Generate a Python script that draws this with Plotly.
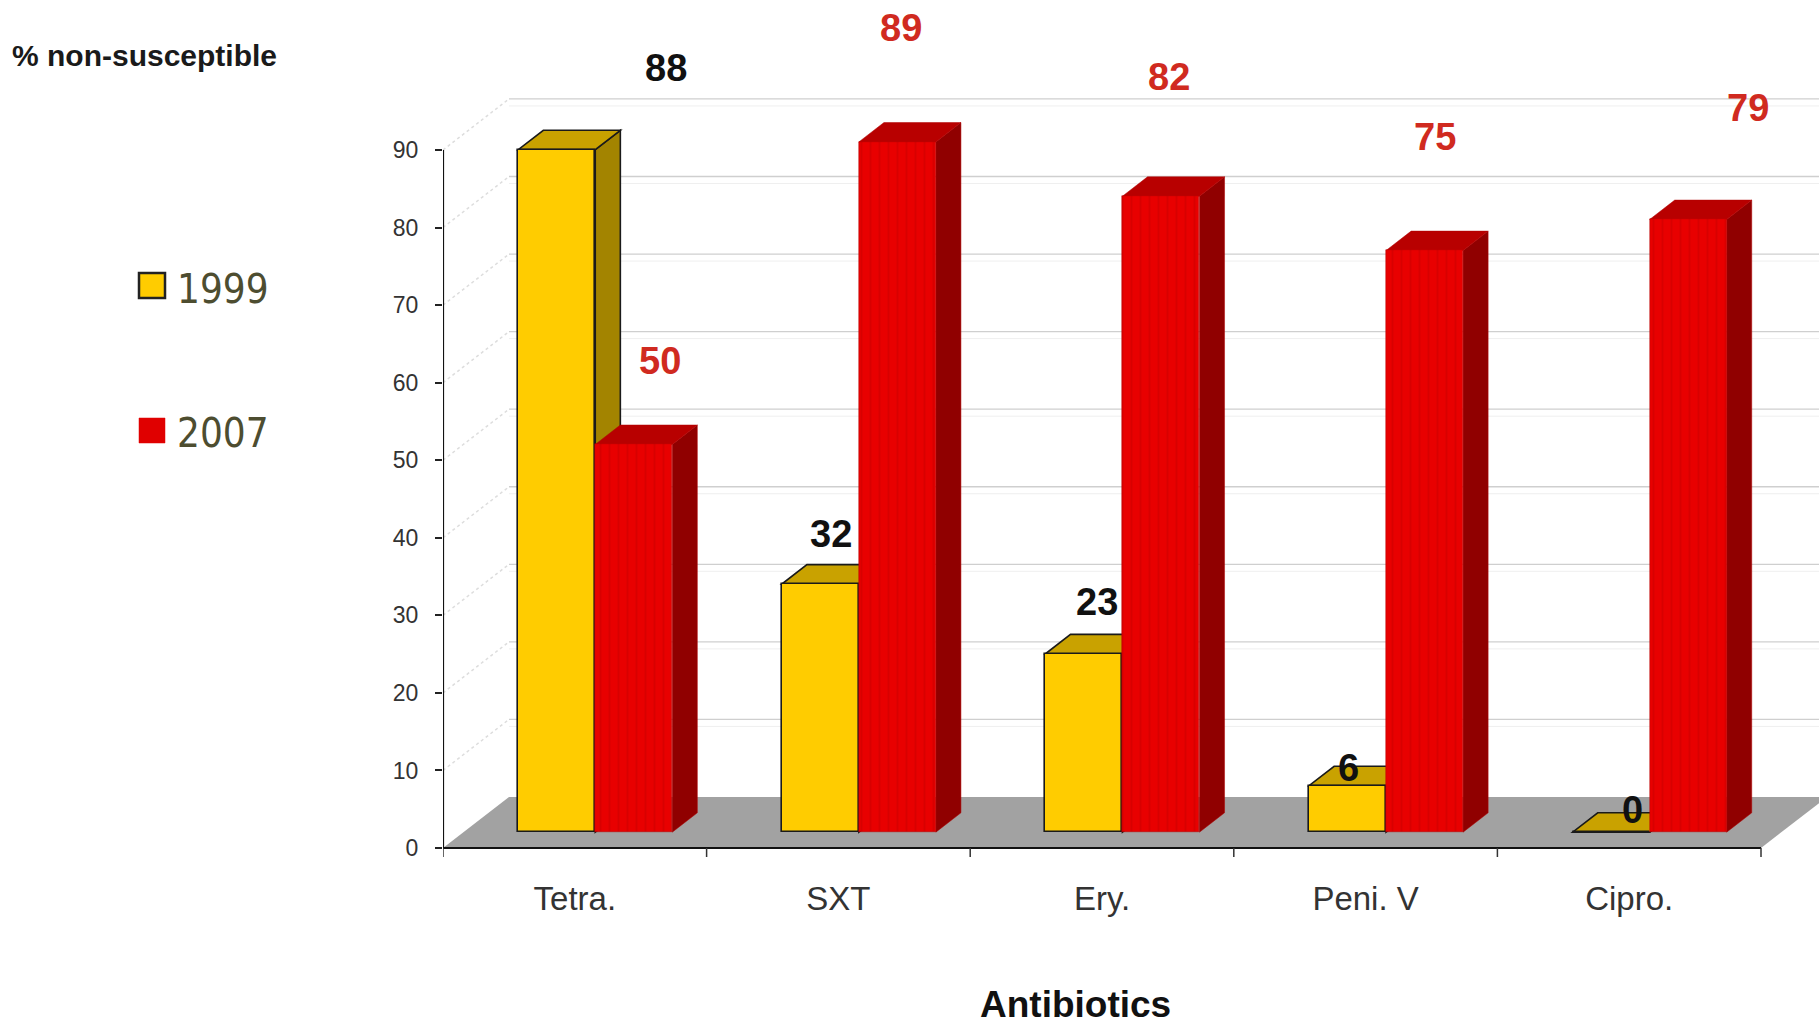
import plotly.graph_objects as go

# ---- data ----
categories = ["Tetra.", "SXT", "Ery.", "Peni. V", "Cipro."]
series_names = ["1999", "2007"]
values_1999 = [88, 32, 23, 6, 0]
values_2007 = [50, 89, 82, 75, 79]
y_ticks = [0, 10, 20, 30, 40, 50, 60, 70, 80, 90]

# hand-placed value labels: horizontal shift (category units) and lift above the value (% points)
label_dx_1999 = [0.415, 0.04, 0.05, 0.005, 0.08]
label_dy_1999 = [12.6, 8.5, 8.7, 4.3, 4.9]
label_dx_2007 = [0.10, 0.013, 0.03, 0.04, 0.227]
label_dy_2007 = [12.8, 16.7, 17.4, 16.7, 16.4]

# ---- geometry of the pseudo-3D box ----
W, H = 1819, 1029
X0_PX, Y0_PX = 443, 848          # pixel position of the axis origin
CAT_PX, UNIT_PX = 263.6, 7.756   # pixels per category / per percentage point
DEPTH_DX = 66 / CAT_PX           # floor depth projected on x (category units)
DEPTH_DY = 51 / UNIT_PX          # floor depth projected on y (% units)
F0, F1 = 0.31, 0.69              # front / back planes of the columns (fraction of depth)
BAR_W = 77 / CAT_PX
N = len(categories)

x_max = (W - X0_PX) / CAT_PX
y_min = -(H - Y0_PX) / UNIT_PX
y_max = Y0_PX / UNIT_PX

FONT = "Liberation Sans, Arial, sans-serif"
NARROW = "Liberation Sans Narrow, Arial Narrow, DejaVu Sans Condensed, sans-serif"

COL = {
    "1999": dict(front="#FFCC00", top="#C9A200", side="#A38400", line="#1a1a1a", lw=1.6),
    "2007": dict(front="#E80000", top="#B80000", side="#900000", line="#B00000", lw=0.5),
}
LABEL_COL = {"1999": "#111111", "2007": "#D02A20"}


def path(pts):
    return "M " + " L ".join(f"{x:.5f},{y:.5f}" for x, y in pts) + " Z"


shapes = []

# floor
shapes.append(dict(type="path", xref="x", yref="y", layer="below",
                   path=path([(0, 0), (N, 0), (N + DEPTH_DX, DEPTH_DY), (DEPTH_DX, DEPTH_DY)]),
                   fillcolor="#A2A2A2", line=dict(width=0)))

# back-wall gridlines and side-wall diagonals
for v in y_ticks[1:]:
    shapes.append(dict(type="line", xref="x", yref="y", layer="below",
                       x0=DEPTH_DX, x1=x_max + 0.1, y0=v + DEPTH_DY, y1=v + DEPTH_DY,
                       line=dict(color="#CFCFCF", width=1.3)))
    shapes.append(dict(type="line", xref="x", yref="y", layer="below",
                       x0=DEPTH_DX, x1=x_max + 0.1, y0=v + DEPTH_DY - 0.9, y1=v + DEPTH_DY - 0.9,
                       line=dict(color="#EFEFEF", width=1)))
    shapes.append(dict(type="line", xref="x", yref="y", layer="below",
                       x0=0, x1=DEPTH_DX, y0=v, y1=v + DEPTH_DY,
                       line=dict(color="#DDDDDD", width=1.5, dash="dot")))

ddx = (F1 - F0) * DEPTH_DX
ddy = (F1 - F0) * DEPTH_DY
base = F0 * DEPTH_DY

fig = go.Figure()
annotations = []

for s, (name, vals, ldx, ldy) in enumerate([
        ("1999", values_1999, label_dx_1999, label_dy_1999),
        ("2007", values_2007, label_dx_2007, label_dy_2007)]):
    c = COL[name]
    centers = []
    for i, v in enumerate(vals):
        left = i + 0.5 - BAR_W + s * BAR_W + F0 * DEPTH_DX
        right = left + BAR_W
        top = base + v
        centers.append((left + right) / 2)
        # right side face
        shapes.append(dict(type="path", xref="x", yref="y", layer="below",
                           path=path([(right, base), (right + ddx, base + ddy),
                                      (right + ddx, top + ddy), (right, top)]),
                           fillcolor=c["side"], line=dict(color=c["line"], width=c["lw"])))
        # top face
        shapes.append(dict(type="path", xref="x", yref="y", layer="below",
                           path=path([(left, top), (right, top),
                                      (right + ddx, top + ddy), (left + ddx, top + ddy)]),
                           fillcolor=c["top"], line=dict(color=c["line"], width=c["lw"])))
        # value label
        annotations.append(dict(x=centers[-1] + ldx[i], y=v + ldy[i], xref="x", yref="y",
                                text=f"<b>{v}</b>", showarrow=False,
                                font=dict(family=FONT, size=38, color=LABEL_COL[name])))
    marker = dict(color=c["front"], line=dict(color=c["line"], width=c["lw"]))
    if name == "2007":
        marker["pattern"] = dict(shape="|", fgcolor="#C80000", bgcolor=c["front"],
                                 size=9, solidity=0.22)
    fig.add_trace(go.Bar(x=centers, y=vals, base=[base] * len(vals), width=BAR_W,
                         name=name, marker=marker, showlegend=False, hoverinfo="skip"))

# axis lines and category boundary ticks
shapes.append(dict(type="line", xref="x", yref="y", layer="above",
                   x0=0, x1=0, y0=0, y1=y_ticks[-1], line=dict(color="#111", width=2.2)))
shapes.append(dict(type="line", xref="x", yref="y", layer="above",
                   x0=0, x1=N, y0=0, y1=0, line=dict(color="#111", width=2.2)))
for k in range(N + 1):
    shapes.append(dict(type="line", xref="x", yref="y", layer="above",
                       x0=k, x1=k, y0=0, y1=-9 / UNIT_PX, line=dict(color="#333", width=1.5)))

# legend keys
def px_rect(x0, y0, x1, y1, fill, line_col, lw):
    return dict(type="rect", xref="paper", yref="paper",
                x0=x0 / W, x1=x1 / W, y0=1 - y1 / H, y1=1 - y0 / H,
                fillcolor=fill, line=dict(color=line_col, width=lw))

shapes.append(px_rect(139, 273, 165, 298, "#FFCC00", "#222", 2.5))
shapes.append(px_rect(139, 418, 165, 443, "#E00000", "#E00000", 0.5))
for txt, yc in [(series_names[0], 289), (series_names[1], 433)]:
    annotations.append(dict(x=175 / W, y=1 - yc / H, xref="paper", yref="paper",
                            xanchor="left", yanchor="middle", text=txt, showarrow=False,
                            font=dict(family=NARROW, size=40, color="#4D4D30")))

# axis titles
annotations.append(dict(x=10 / W, y=1 - 56 / H, xref="paper", yref="paper",
                        xanchor="left", yanchor="middle", showarrow=False,
                        text="<b>% non-susceptible</b>",
                        font=dict(family=FONT, size=30, color="#1a1a1a")))
annotations.append(dict(x=1075 / W, y=1 - 1004 / H, xref="paper", yref="paper",
                        xanchor="center", yanchor="middle", showarrow=False,
                        text="<b>Antibiotics</b>",
                        font=dict(family=FONT, size=37, color="#111")))

fig.update_layout(
    width=W, height=H,
    margin=dict(l=0, r=0, t=0, b=0),
    paper_bgcolor="white", plot_bgcolor="white",
    shapes=shapes, annotations=annotations,
    bargap=0, barmode="overlay",
    xaxis=dict(domain=[X0_PX / W, 1], range=[0, x_max], showgrid=False, zeroline=False,
               showline=False, tickmode="array",
               tickvals=[i + 0.5 for i in range(N)], ticktext=categories,
               ticks="", anchor="free", position=(H - Y0_PX) / H,
               ticklabelstandoff=28,
               tickfont=dict(family=FONT, size=33, color="#333")),
    yaxis=dict(domain=[0, 1], range=[y_min, y_max], showgrid=False, zeroline=False,
               showline=False, tickmode="array", tickvals=y_ticks,
               ticks="outside", ticklen=7, tickwidth=1.5, tickcolor="#222",
               ticklabelstandoff=12,
               tickfont=dict(family=FONT, size=23, color="#333")),
)

fig.write_html("out.html")
